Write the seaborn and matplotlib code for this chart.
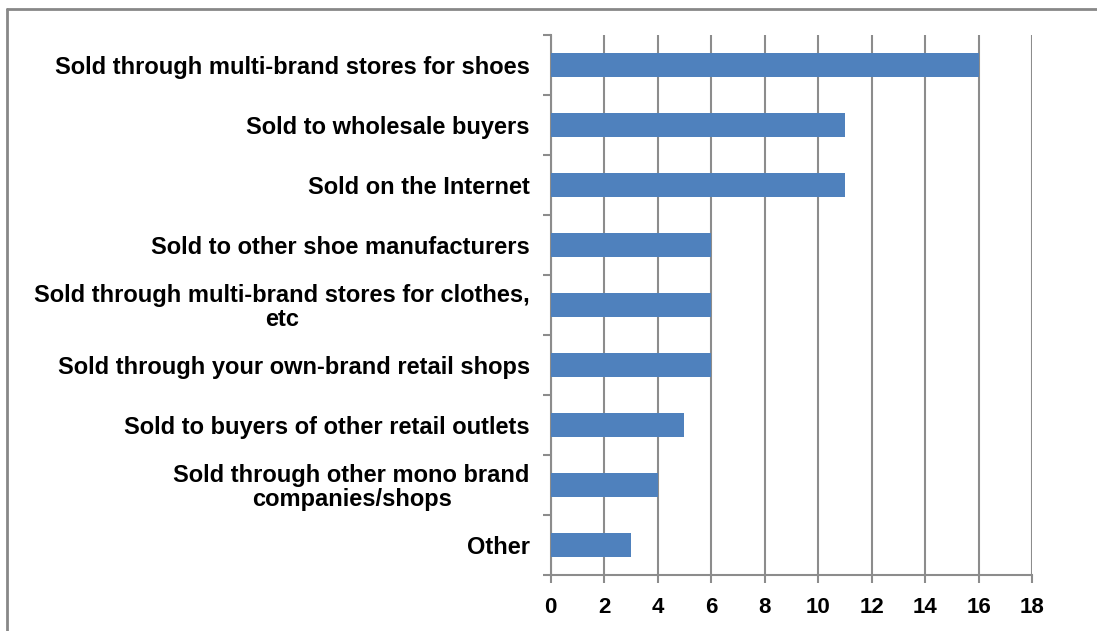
import matplotlib
matplotlib.use("Agg")
import matplotlib.pyplot as plt
from matplotlib.lines import Line2D
from matplotlib.ticker import FixedLocator
import seaborn as sns
import pandas as pd

categories = [
    "Sold through multi-brand stores for shoes",
    "Sold to wholesale buyers",
    "Sold on the Internet",
    "Sold to other shoe manufacturers",
    "Sold through multi-brand stores for clothes,\netc",
    "Sold through your own-brand retail shops",
    "Sold to buyers of other retail outlets",
    "Sold through other mono brand\ncompanies/shops",
    "Other",
]
values = [16, 11, 11, 6, 6, 6, 5, 4, 3]
x_ticks = [0, 2, 4, 6, 8, 10, 12, 14, 16, 18]

sns.set_theme(style="white")
plt.rcParams["font.family"] = ["Liberation Sans", "DejaVu Sans"]

df = pd.DataFrame({"channel": categories, "count": values})

fig = plt.figure(figsize=(10.97, 6.31), dpi=100)
ax = fig.add_axes([0.502, 0.089, 0.439, 0.856])

sns.barplot(data=df, x="count", y="channel", orient="h", color="#4F81BD",
            saturation=1, width=0.4, linewidth=0, ax=ax, zorder=3)

grid_color = "#8C8C8C"
ax.set_xlim(0, 18)
ax.set_ylim(len(categories) - 0.5, -0.5)
ax.set_xticks(x_ticks)
ax.xaxis.grid(True, color=grid_color, linewidth=1.5, zorder=0)
ax.yaxis.grid(False)
ax.set_xlabel("")
ax.set_ylabel("")

for side in ("top", "right"):
    ax.spines[side].set_visible(False)
for side in ("left", "bottom"):
    ax.spines[side].set_color(grid_color)
    ax.spines[side].set_linewidth(1.5)

# category separators drawn as outward ticks on the category axis
ax.yaxis.set_minor_locator(FixedLocator([i - 0.5 for i in range(len(categories) + 1)]))
ax.tick_params(axis="y", which="major", length=0, pad=15)
ax.tick_params(axis="y", which="minor", left=True, length=6, width=1.5,
               color=grid_color, direction="out")
ax.tick_params(axis="x", which="major", bottom=True, length=6, width=1.5,
               color=grid_color, direction="out", pad=10)

for lbl in ax.get_yticklabels():
    lbl.set_fontsize(17)
    lbl.set_fontweight("bold")
    lbl.set_color("black")
    lbl.set_multialignment("center")
    lbl.set_linespacing(1.02)
for lbl in ax.get_xticklabels():
    lbl.set_fontsize(16)
    lbl.set_fontweight("bold")
    lbl.set_color("black")

# chart frame
frame_kw = dict(color="#888888", linewidth=2, transform=fig.transFigure)
fig.add_artist(Line2D([7 / 1097, 7 / 1097], [0, 1 - 9 / 631], **frame_kw))
fig.add_artist(Line2D([7 / 1097, 1], [1 - 9 / 631, 1 - 9 / 631], **frame_kw))

fig.savefig("out.png", dpi=100, facecolor="white")
